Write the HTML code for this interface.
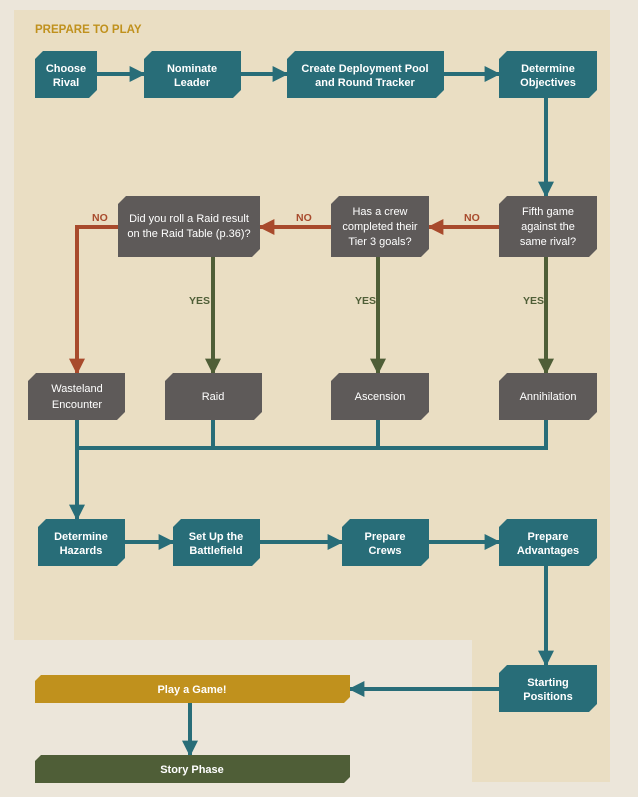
<!DOCTYPE html>
<html><head><meta charset="utf-8"><style>
html,body{margin:0;padding:0;background:#ece6da;}
svg{display:block;}
text{font-family:"Liberation Sans",sans-serif;}
.b{font-weight:bold;font-size:11px;fill:#fff;}
.g{font-size:11px;fill:#fff;}
</style></head><body>
<svg width="638" height="797" viewBox="0 0 638 797" xmlns="http://www.w3.org/2000/svg">
<defs>
<marker id="at" viewBox="0 0 10 10" refX="9" refY="5" markerWidth="4" markerHeight="4" orient="auto"><path d="M0,0L10,5L0,10z" fill="#286d78"/></marker>
<marker id="ar" viewBox="0 0 10 10" refX="9" refY="5" markerWidth="4" markerHeight="4" orient="auto"><path d="M0,0L10,5L0,10z" fill="#a84a2c"/></marker>
<marker id="ag" viewBox="0 0 10 10" refX="9" refY="5" markerWidth="4" markerHeight="4" orient="auto"><path d="M0,0L10,5L0,10z" fill="#4f5e37"/></marker>
</defs>
<rect x="0" y="0" width="638" height="797" fill="#ece6da"/>
<rect x="14" y="10" width="596" height="630" fill="#eadec3"/>
<rect x="472" y="640" width="138" height="142" fill="#eadec3"/>
<text x="35" y="33" style="font-weight:bold;font-size:11.5px;fill:#c0911d">PREPARE TO PLAY</text>

<g stroke-width="4" fill="none">
<line x1="97" y1="74" x2="144" y2="74" stroke="#286d78" marker-end="url(#at)"/>
<line x1="241" y1="74" x2="287" y2="74" stroke="#286d78" marker-end="url(#at)"/>
<line x1="444" y1="74" x2="499" y2="74" stroke="#286d78" marker-end="url(#at)"/>
<line x1="546" y1="98" x2="546" y2="196" stroke="#286d78" marker-end="url(#at)"/>
<line x1="499" y1="227" x2="429" y2="227" stroke="#a84a2c" marker-end="url(#ar)"/>
<line x1="331" y1="227" x2="260" y2="227" stroke="#a84a2c" marker-end="url(#ar)"/>
<polyline points="118,227 77,227 77,373" stroke="#a84a2c" marker-end="url(#ar)"/>
<line x1="213" y1="257" x2="213" y2="373" stroke="#4f5e37" marker-end="url(#ag)"/>
<line x1="378" y1="257" x2="378" y2="373" stroke="#4f5e37" marker-end="url(#ag)"/>
<line x1="546" y1="257" x2="546" y2="373" stroke="#4f5e37" marker-end="url(#ag)"/>
<g stroke="#286d78">
<line x1="77" y1="420" x2="77" y2="448"/>
<line x1="213" y1="420" x2="213" y2="448"/>
<line x1="378" y1="420" x2="378" y2="448"/>
<line x1="546" y1="420" x2="546" y2="448"/>
<line x1="75" y1="448" x2="548" y2="448"/>
</g>
<line x1="77" y1="448" x2="77" y2="519" stroke="#286d78" marker-end="url(#at)"/>
<line x1="125" y1="542" x2="173" y2="542" stroke="#286d78" marker-end="url(#at)"/>
<line x1="260" y1="542" x2="342" y2="542" stroke="#286d78" marker-end="url(#at)"/>
<line x1="429" y1="542" x2="499" y2="542" stroke="#286d78" marker-end="url(#at)"/>
<line x1="546" y1="566" x2="546" y2="665" stroke="#286d78" marker-end="url(#at)"/>
<line x1="499" y1="689" x2="350" y2="689" stroke="#286d78" marker-end="url(#at)"/>
<line x1="190" y1="703" x2="190" y2="755" stroke="#286d78" marker-end="url(#at)"/>
</g>

<g font-weight="bold" font-size="10.5" font-family="Liberation Sans, sans-serif">
<text x="92" y="221" fill="#a84a2c">NO</text>
<text x="296" y="221" fill="#a84a2c">NO</text>
<text x="464" y="221" fill="#a84a2c">NO</text>
<text x="189" y="304" fill="#4f5e37">YES</text>
<text x="355" y="304" fill="#4f5e37">YES</text>
<text x="523" y="304" fill="#4f5e37">YES</text>
</g>

<g fill="#286d78">
<polygon points="43,51 97,51 97,90 89,98 35,98 35,59"/>
<polygon points="152,51 241,51 241,90 233,98 144,98 144,59"/>
<polygon points="295,51 444,51 444,90 436,98 287,98 287,59"/>
<polygon points="507,51 597,51 597,90 589,98 499,98 499,59"/>
<polygon points="46,519 125,519 125,558 117,566 38,566 38,527"/>
<polygon points="181,519 260,519 260,558 252,566 173,566 173,527"/>
<polygon points="350,519 429,519 429,558 421,566 342,566 342,527"/>
<polygon points="507,519 597,519 597,558 589,566 499,566 499,527"/>
<polygon points="507,665 597,665 597,704 589,712 499,712 499,673"/>
</g>
<g fill="#5e5a59">
<polygon points="126,196 260,196 260,249 252,257 118,257 118,204"/>
<polygon points="339,196 429,196 429,249 421,257 331,257 331,204"/>
<polygon points="507,196 597,196 597,249 589,257 499,257 499,204"/>
<polygon points="36,373 125,373 125,412 117,420 28,420 28,381"/>
<polygon points="173,373 262,373 262,412 254,420 165,420 165,381"/>
<polygon points="339,373 429,373 429,412 421,420 331,420 331,381"/>
<polygon points="507,373 597,373 597,412 589,420 499,420 499,381"/>
</g>
<polygon points="41,675 350,675 350,697 344,703 35,703 35,681" fill="#c0911d"/>
<polygon points="41,755 350,755 350,777 344,783 35,783 35,761" fill="#4f5e37"/>

<g class="b" text-anchor="middle">
<text x="66" y="72">Choose</text><text x="66" y="86">Rival</text>
<text x="192" y="72">Nominate</text><text x="192" y="86">Leader</text>
<text x="365" y="72">Create Deployment Pool</text><text x="365" y="86">and Round Tracker</text>
<text x="548" y="72">Determine</text><text x="548" y="86">Objectives</text>
<text x="81" y="540">Determine</text><text x="81" y="554">Hazards</text>
<text x="216" y="540">Set Up the</text><text x="216" y="554">Battlefield</text>
<text x="385" y="540">Prepare</text><text x="385" y="554">Crews</text>
<text x="548" y="540">Prepare</text><text x="548" y="554">Advantages</text>
<text x="548" y="686">Starting</text><text x="548" y="700">Positions</text>
<text x="192" y="693">Play a Game!</text>
<text x="192" y="773">Story Phase</text>
</g>
<g class="g" text-anchor="middle">
<text x="189" y="222">Did you roll a Raid result</text><text x="189" y="237">on the Raid Table (p.36)?</text>
<text x="380" y="215">Has a crew</text><text x="380" y="230">completed their</text><text x="380" y="245">Tier 3 goals?</text>
<text x="548" y="215">Fifth game</text><text x="548" y="230">against the</text><text x="548" y="245">same rival?</text>
<text x="77" y="392">Wasteland</text><text x="77" y="408">Encounter</text>
<text x="213" y="400">Raid</text>
<text x="380" y="400">Ascension</text>
<text x="548" y="400">Annihilation</text>
</g>
</svg>
</body></html>
